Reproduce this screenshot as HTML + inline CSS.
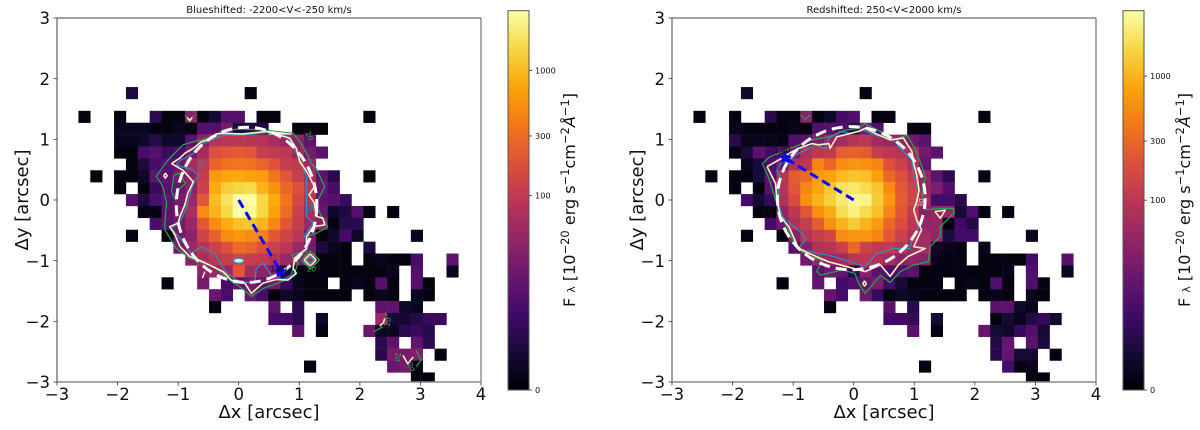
<!DOCTYPE html>
<html lang="en">
<head>
<meta charset="utf-8">
<title>Blueshifted and redshifted flux maps</title>
<style>
html,body{margin:0;padding:0;background:#fff;}
svg{display:block;font-family:"DejaVu Sans","Liberation Sans",sans-serif;filter:blur(0.35px);}
</style>
</head>
<body>
<svg id="figure" width="1200" height="430" viewBox="0 0 1200 430" xmlns="http://www.w3.org/2000/svg"></svg>
<script>
const _ = null;
/* Heatmap rows, top (j=9) to bottom (j=-15): first entry is the first column index, then flux per cell */
const fluxBlue = [
[-9,5,_,_,_,_,_,_,_,_,_,1],
[0],
[-13,1,_,_,1,_,_,7,1,1,40,1,4,15,15,_,1,1,_,_,_,_,_,_,_,1],
[-10,2,2,2,1,1,2,1,15,15,27,5,5,5,_,_,1,1,1],
[-10,2,2,3,6,3,3,15,40,80,90,90,85,80,62,50,40,18],
[-10,1,1,12,15,9,12,27,62,180,200,220,200,110,100,90,50,27,18],
[-9,1,5,12,15,22,62,90,260,330,350,340,260,190,110,100,50],
[-12,1,_,1,1,3,18,18,27,40,110,600,750,800,700,650,350,200,110,62,18,7,_,_,1],
[-10,1,_,1,9,15,22,40,120,800,1300,1500,1600,900,550,280,180,90,22,12],
[-9,15,5,12,18,27,50,200,1000,1800,3000,3000,1500,800,350,150,80,18,15,9],
[-8,1,1,18,33,62,500,900,1500,3000,2800,1500,700,300,120,62,22,3,5,15,1,_,1],
[-7,13,18,27,50,200,500,800,1100,1200,900,450,200,110,50,40,1,6,7],
[-9,1,_,_,1,27,40,130,250,500,600,500,420,200,130,90,27,1,3,11,3,_,_,_,_,2],
[-5,27,50,80,120,180,300,260,180,120,90,50,27,5,2,1,_,5],
[-4,40,62,90,110,140,110,100,80,50,33,62,1,1,1,_,1,2,1,1,12,_,_,18],
[-3,40,50,50,200,62,40,33,5,1,1,1,1,1,1,1,1,2,_,15,_,_,2],
[-6,1,_,_,27,_,12,18,27,18,27,9,2,1,1,_,1,2,1,15,1,_,15,1],
[-2,22,12,_,22,12,1,3,2,1,1,1,1,_,1,2,1,_,2,1],
[-2,1,_,_,_,_,18,_,7,_,_,_,_,_,_,18,18,3,2],
[3,11,11,7,_,3,_,_,_,_,50,4,4,6,9,9],
[5,18,_,1,_,_,_,22,2,2,7,9,6],
[12,7,18,_,18,7],
[12,6,27,27,33,_,1],
[6,1,_,_,_,_,_,_,22,27,1],
[15,1,1]
];
const fluxRed = [
[-9,3,_,_,_,_,_,_,_,_,_,1],
[0],
[-13,1,_,_,1,_,_,7,1,1,40,1,3,12,15,_,1,1,_,_,_,_,_,_,_,1],
[-10,2,1,1,1,1,2,1,15,18,15,7,27,15,_,_,1,1],
[-10,7,2,2,2,1,15,18,33,50,62,90,100,62,55,50,27,18],
[-10,1,5,18,12,15,27,80,100,110,250,270,250,120,100,90,62,27,18],
[-9,2,5,15,27,80,100,500,300,550,650,600,500,200,130,80,22],
[-12,1,_,1,1,5,18,90,250,300,700,800,1100,1300,1200,750,300,200,110,50,18,8,_,_,1],
[-10,1,_,1,18,90,220,500,800,1300,2000,2200,1800,1300,550,230,140,50,33,15],
[-9,12,4,9,80,180,600,1000,1500,2300,3000,2800,1400,700,250,150,62,12,12,7],
[-8,1,1,50,100,220,600,900,1800,2600,1800,1200,500,220,110,40,50,50,4,15,1,_,1],
[-7,12,27,80,120,250,600,1000,1400,1000,700,300,180,100,50,50,1,11,6],
[-9,1,_,_,1,40,90,120,150,550,650,650,500,220,130,80,62,50,5,12,12,_,_,_,_,2],
[-5,18,40,80,90,130,300,140,110,110,90,62,62,3,2,1,_,2],
[-4,27,50,55,62,90,100,80,62,45,50,40,2,1,1,_,1,1,1,1,12,_,_,17],
[-3,18,27,22,7,40,18,15,15,18,1,1,1,1,1,1,1,2,_,15,_,_,2],
[-6,1,_,_,22,_,12,15,22,33,12,4,1,1,1,_,1,2,1,15,1,_,15,1],
[-2,22,12,_,27,9,1,3,2,1,1,1,1,_,1,2,1,_,2,1],
[-2,1,_,_,_,_,18,_,7,_,_,_,_,_,_,18,18,3,2],
[3,11,11,9,_,4,_,_,_,_,1,4,2,6,9,4],
[5,18,_,1,_,_,_,22,4,3,9,15,4],
[12,6,22,_,18,5],
[12,7,22,4,4,_,1],
[6,1,_,_,_,_,_,_,12,1,2],
[15,1,1]
];
const topRow = 9;
const cellArcsec = 0.196;

const xTicks = [-3,-2,-1,0,1,2,3,4];
const yTicks = [-3,-2,-1,0,1,2,3];
const cbarTicks = [0,100,300,1000];
const infernoStops = ['#000004','#160b39','#420a68','#6a176e','#932667','#bc3754','#dd513a','#f37819','#fca50a','#f6d746','#fcffa4'];

/* Contours in arcsec */
const blueCream = [[-1.11,.60],[-.97,.69],[-.89,.77],[-.75,.85],[-.62,.96],[-.48,1.00],[-.37,1.09],[-.26,1.10],[.07,1.09],[.46,1.13],[.84,1.02],[.95,.85],[1.01,.63],[1.12,.47],[1.17,.38],[1.25,.22],[1.16,.08],[1.25,-.05],[1.28,-.27],[1.39,-.30],[1.42,-.41],[1.23,-.44],[1.12,-.60],[1.12,-.80],[.92,-.96],[.90,-1.13],[.95,-1.21],[.81,-1.32],[.62,-1.31],[.40,-1.37],[.21,-1.54],[.10,-1.37],[-.12,-1.32],[-.26,-1.18],[-.59,-1.02],[-.81,-.93],[-.97,-.77],[-1.05,-.58],[-1.14,-.44],[-1.00,-.38],[-.97,-.27],[-.89,-.08],[-.84,.11],[-.75,.30],[-.92,.49],[-1.11,.60]];
const blueTeal = [[-1.03,.58],[-.75,.49],[-.67,.41],[-.75,.27],[-.81,.08],[-.86,-.11],[-.95,-.33],[-1.11,-.47],[-.95,-.66],[-.78,-.88],[-.62,-.77],[-.40,-.88],[-.20,-1.21],[.02,-1.35],[.26,-1.37],[.29,-1.13],[.40,-1.04],[.54,-1.24],[.73,-1.31],[.87,-1.24],[.92,-1.04],[1.12,-.80],[1.09,-.58],[1.23,-.38],[1.12,-.27],[1.12,.11],[1.12,.38],[1.03,.63],[.95,.77],[.81,1.04],[.46,1.11],[.07,1.07],[-.23,1.07],[-.34,1.04],[-.59,.93],[-.75,.77],[-.95,.66],[-1.03,.58]];
const blueGreen = [[-1.14,.69],[-1.03,.80],[-.92,.91],[-.75,.96],[-.64,.99],[-.42,1.04],[-.26,1.15],[.02,1.17],[.46,1.15],[.90,1.10],[1.01,.96],[1.12,.77],[1.20,.60],[1.28,.52],[1.42,.22],[1.31,0],[1.28,-.11],[1.47,-.44],[1.28,-.55],[1.12,-.60],[1.14,-.74],[1.12,-.85],[.87,-.91],[.98,-1.04],[.90,-1.26],[.65,-1.37],[.40,-1.46],[.21,-1.59],[.02,-1.43],[-.15,-1.32],[-.40,-1.10],[-.59,-1.04],[-.81,-.96],[-1.03,-.80],[-1.22,-.49],[-1.22,-.38],[-1.19,-.05],[-1.25,.22],[-1.36,.39],[-1.19,.63],[-1.03,.80]];
const blueGreenBits = [
[[-1.07,.41],[-.97,.44],[-.88,.27],[-1.03,.14],[-1.04,0],[-1.11,.14],[-1.07,.41]],
[[-.89,1.40],[-.81,1.29],[-.73,1.40]],
[[2.41,-1.86],[2.44,-1.90]],
[[2.23,-2.17],[2.38,-2.09]],
[[2.93,-2.48],[3.01,-2.64],[2.93,-2.75]],
[[1.04,-.99],[1.18,-.84],[1.33,-.99],[1.18,-1.14],[1.04,-.99]]
];
const blueCreamBits = [
[[-.56,-1.18],[-.60,-1.29]],
[[-1.24,.40],[-1.21,.44],[-1.18,.40],[-1.21,.36],[-1.24,.40]],
[[-.85,1.36],[-.81,1.31],[-.77,1.36]],
[[2.41,-1.95],[2.39,-2.02],[2.33,-2.08]],
[[2.71,-2.56],[2.79,-2.70],[2.88,-2.59]],
[[1.08,-.99],[1.18,-.89],[1.28,-.99],[1.18,-1.09],[1.08,-.99]]
];
const blueTealBits = [
[[1.12,-.99],[1.18,-.93],[1.24,-.99],[1.18,-1.05],[1.12,-.99]]
];
const redCream = [[-1.43,.55],[-1.18,.69],[-1.07,.77],[-.91,.85],[-.69,.93],[-.58,.91],[-.41,.93],[-.39,.85],[-.28,1.04],[.08,1.13],[.19,1.18],[.35,1.10],[.60,.99],[.82,1.02],[.96,.80],[.99,.60],[1.04,.41],[1.08,.16],[1.04,-.03],[.99,-.16],[1.04,-.33],[1.12,-.49],[.99,-.77],[1.18,-.80],[.90,-.93],[.74,-1.07],[.60,-1.26],[.44,-1.07],[.19,-1.18],[-.11,-1.10],[-.41,-1.02],[-.74,-.88],[-.91,-.80],[-1.07,-.44],[-1.21,-.27],[-1.27,0],[-1.29,.27],[-1.43,.55]];
const redTeal = [[-1.21,.60],[-1.27,.49],[-1.21,.38],[-1.24,.16],[-1.24,-.05],[-1.18,-.27],[-.99,-.44],[-.85,-.55],[-.80,-.66],[-.91,-.80],[-.61,-.88],[-.41,-.91],[-.14,-.99],[.19,-1.10],[.38,-.88],[.66,-.80],[.93,-.80],[.96,-.63],[1.07,-.47],[.99,-.14],[1.07,.11],[.99,.41],[.96,.66],[.79,.82],[.66,.99],[.35,1.07],[.16,1.15],[-.06,1.10],[-.22,1.13],[-.41,1.02],[-.47,.85],[-.63,.91],[-.91,.77],[-1.07,.66],[-1.21,.60]];
const redGreen = [[-1.51,.60],[-1.40,.70],[-1.18,.80],[-.69,.99],[-.41,1.04],[-.14,1.15],[.08,1.18],[.18,1.26],[.44,1.13],[.66,.99],[.88,1.07],[1.01,.85],[1.11,.60],[1.18,.38],[1.12,.11],[1.15,0],[1.21,-.16],[1.40,-.14],[1.65,-.14],[1.66,-.21],[1.43,-.44],[1.43,-.60],[1.26,-.77],[1.23,-1.02],[.99,-1.07],[.77,-1.18],[.60,-1.36],[.44,-1.24],[.19,-1.54],[.08,-1.37],[.02,-1.21],[-.19,-1.15],[-.55,-1.24],[-.61,-1.18],[-.52,-.99],[-.74,-.93],[-.94,-.80],[-1.10,-.46],[-1.29,0],[-1.40,.36],[-1.51,.60]];
const redGreenBits = [
[[-.88,1.40],[-.80,1.33],[-.72,1.40]]
];
const redCreamBits = [
[[1.34,-.19],[1.51,-.17],[1.43,-.30],[1.34,-.19]],
[[.18,-1.33],[.21,-1.38],[.18,-1.42],[.15,-1.38],[.18,-1.33]]
];
const redTealBits = [];

/* Dashed fit ellipses: centre x, centre y, semi-axis x, semi-axis y */
const blueEllipse = [0.13,-0.08,1.16,1.28];
const redEllipse = [-0.04,0.03,1.22,1.18];
/* Velocity vectors end (star) */
const blueVector = [0.69,-1.18];
const redVector = [-1.13,0.69];
/* Contour labels: x, y, text, colour key, rotation */
const blueLabels = [
[-.62,.59,'3σ','teal',90],
[1.2,-.13,'3σ','teal',-90],
[1.17,1.06,'2σ','green',60],
[1.2,-1.14,'2σ','green',0],
[2.46,-2.01,'2σ','green',-80],
[2.62,-2.59,'2σ','green',90],
[2.85,-2.75,'2σ','green',60],
[.66,-1.14,'1.40','black',0]
];
const redLabels = [
[1.11,-.05,'3σ','faint',-90],
[-1.18,.82,'1.40','black',0]
];
const blueSpots = [[0,-1.0]];
const redSpots = [];

const colours = {cream:'#fff2c0',green:'#25a84f',teal:'#2a92bc',black:'#111',faint:'#d9b9c9'};
const panelWidth = 424, panelHeight = 364, axisLeft = 57, axisTop = 18;
const xMin = -3, xMax = 4, yMin = -3, yMax = 3;

const svg = document.getElementById('figure');
const NS = 'http://www.w3.org/2000/svg';

function make(tag, attrs, parent){
  const e = document.createElementNS(NS, tag);
  for (const k in attrs) e.setAttribute(k, attrs[k]);
  parent.appendChild(e);
  return e;
}
function hexMix(a,b,f){
  const pa=[1,3,5].map(i=>parseInt(a.substr(i,2),16));
  const pb=[1,3,5].map(i=>parseInt(b.substr(i,2),16));
  return 'rgb('+pa.map((v,i)=>Math.round(v+(pb[i]-v)*f)).join(',')+')';
}
function inferno(t){
  const c=Math.max(0,Math.min(1,t))*(infernoStops.length-1);
  const i=Math.min(Math.floor(c),infernoStops.length-2);
  return hexMix(infernoStops[i],infernoStops[i+1],c-i);
}
function pointsOf(path, sx, sy){
  return path.map(p=>sx(p[0]).toFixed(1)+','+sy(p[1]).toFixed(1)).join(' ');
}

function drawPanel(cfg){
  const off = cfg.offset;
  const sx = v => off + axisLeft + (v - xMin) / (xMax - xMin) * panelWidth;
  const sy = v => axisTop + (yMax - v) / (yMax - yMin) * panelHeight;
  const norm = v => cfg.normA * Math.asinh(v / cfg.normB);
  const group = make('g', {}, svg);
  
  

  const defs = make('defs', {}, svg);
  const clip = make('clipPath', {id: 'clip-' + cfg.key}, defs);
  make('rect', {x: sx(xMin), y: sy(yMax), width: panelWidth, height: panelHeight}, clip);
  const cellsGroup = make('g', {'clip-path': 'url(#clip-' + cfg.key + ')'}, group);
  
  

  /* heatmap */
  const cellPx = cellArcsec * panelWidth / (xMax - xMin);
  cfg.rows.forEach((row, r) => {
    const j = topRow - r;
    const first = row[0];
    row.slice(1).forEach((val, c) => {
      if (val === null) return;
      const i = first + c;
      const cell = make('rect', {
        x: (sx(i * cellArcsec) - cellPx / 2).toFixed(2),
        y: (sy(j * cellArcsec) - cellPx / 2).toFixed(2),
        width: (cellPx + 0.25).toFixed(2),
        height: (cellPx + 0.25).toFixed(2),
        fill: inferno(norm(val))
      }, cellsGroup);
      
      
    });
  });

  /* contours */
  const drawLine = (path, colour, name, width) => {
    const line = make('polyline', {points: pointsOf(path, sx, sy), fill: 'none', stroke: colour, 'stroke-width': width, 'stroke-linejoin': 'round'}, group);
    
    
  };
  cfg.greenBits.forEach(p => drawLine(p, colours.green, 'contour-2-sigma-fragment', 1.2));
  cfg.tealBits.forEach(p => drawLine(p, colours.teal, 'contour-3-sigma-fragment', 1.3));
  cfg.creamBits.forEach(p => drawLine(p, colours.cream, 'contour-peak-fragment', 1.5));
  drawLine(cfg.green, colours.green, 'contour-2-sigma', 1.2);
  drawLine(cfg.teal, colours.teal, 'contour-3-sigma', 1.2);
  drawLine(cfg.cream, colours.cream, 'contour-peak', 1.6);

  cfg.spots.forEach(s => {
    const o = make('ellipse', {cx: sx(s[0]), cy: sy(s[1]), rx: 5, ry: 2.4, fill: '#fff', stroke: colours.teal, 'stroke-width': 1.2}, group);
    
    
  });

  /* dashed fit ellipse */
  const e = cfg.ellipse;
  const ell = make('ellipse', {
    cx: sx(e[0]), cy: sy(e[1]),
    rx: e[2] * panelWidth / (xMax - xMin),
    ry: e[3] * panelHeight / (yMax - yMin),
    fill: 'none', stroke: '#fff', 'stroke-width': 3, 'stroke-dasharray': '11 6'
  }, group);
  
  

  /* blue vector */
  const vec = make('line', {x1: sx(0), y1: sy(0), x2: sx(cfg.vector[0]), y2: sy(cfg.vector[1]), stroke: '#0000ff', 'stroke-width': 3, 'stroke-dasharray': '9 5'}, group);
  
  
  const starPts = [];
  for (let k = 0; k < 10; k++) {
    const rad = k % 2 ? 3 : 7;
    const ang = -Math.PI / 2 + k * Math.PI / 5;
    starPts.push((sx(cfg.vector[0]) + rad * Math.cos(ang)).toFixed(1) + ',' + (sy(cfg.vector[1]) + rad * Math.sin(ang)).toFixed(1));
  }
  const star = make('polygon', {points: starPts.join(' '), fill: '#0000ff'}, group);
  
  

  /* contour labels */
  cfg.labels.forEach(l => {
    const px = sx(l[0]), py = sy(l[1]);
    const t = make('text', {x: px, y: py + 2.5, 'font-size': 7.5, 'text-anchor': 'middle', fill: colours[l[3]], transform: 'rotate(' + l[4] + ' ' + px + ' ' + py + ')'}, group);
    t.textContent = l[2];
    
    
  });

  /* spines */
  const spines = [
    [sx(xMin), sy(yMin), sx(xMin), sy(yMax), '#888', 1.6, 'left-spine'],
    [sx(xMax), sy(yMin), sx(xMax), sy(yMax), '#888', 1.4, 'right-spine'],
    [sx(xMin), sy(yMin), sx(xMax), sy(yMin), '#888', 1.4, 'bottom-spine'],
    [sx(xMin), sy(yMax), sx(xMax), sy(yMax), '#444', 1, 'top-spine']
  ];
  spines.forEach(s => {
    const ln = make('line', {x1: s[0], y1: s[1], x2: s[2], y2: s[3], stroke: s[4], 'stroke-width': s[5]}, group);
    
    
  });

  /* ticks */
  xTicks.forEach(v => {
    const tk = make('line', {x1: sx(v), y1: sy(yMin), x2: sx(v), y2: sy(yMin) + 3.5, stroke: '#333', 'stroke-width': 0.8}, group);
    
    
    const lb = make('text', {x: sx(v), y: 400, 'font-size': 16.5, 'text-anchor': 'middle', fill: '#111'}, group);
    lb.textContent = String(v).replace('-', '\u2212');
    
    
  });
  yTicks.forEach(v => {
    const tk = make('line', {x1: sx(xMin) - 3.5, y1: sy(v), x2: sx(xMin), y2: sy(v), stroke: '#333', 'stroke-width': 0.8}, group);
    
    
    const lb = make('text', {x: sx(xMin) - 7, y: sy(v) + 6.2, 'font-size': 16.5, 'text-anchor': 'end', fill: '#111'}, group);
    lb.textContent = String(v).replace('-', '\u2212');
    
    
  });

  /* titles */
  const title = make('text', {x: off + 269, y: 13, 'font-size': 10, 'text-anchor': 'middle', fill: '#111'}, group);
  title.textContent = cfg.title;
  
  
  const xt = make('text', {x: off + 269, y: 418, 'font-size': 18, 'text-anchor': 'middle', fill: '#111'}, group);
  xt.textContent = 'Δx [arcsec]';
  
  
  const yt = make('text', {x: 0, y: 0, 'font-size': 18, 'text-anchor': 'middle', fill: '#111', transform: 'translate(' + (off + 28) + ' 200) rotate(-90)'}, group);
  yt.textContent = 'Δy [arcsec]';
  
  

  /* colourbar */
  const barX = off + 508, barW = 21, barTop = 10.7, barBottom = 390;
  const cy = t => barBottom - t * (barBottom - barTop);
  const gradId = 'grad-' + cfg.key;
  const grad = make('linearGradient', {id: gradId, x1: 0, y1: 1, x2: 0, y2: 0}, defs);
  infernoStops.forEach((c, k) => {
    make('stop', {offset: k / (infernoStops.length - 1), 'stop-color': c}, grad);
  });
  const bar = make('rect', {x: barX, y: barTop, width: barW, height: barBottom - barTop, fill: 'url(#' + gradId + ')', stroke: '#555', 'stroke-width': 1}, group);
  
  
  cbarTicks.forEach(v => {
    const tk = make('line', {x1: barX + barW, y1: cy(norm(v)), x2: barX + barW + 3, y2: cy(norm(v)), stroke: '#333', 'stroke-width': 0.8}, group);
    
    
    const lb = make('text', {x: barX + barW + 6, y: cy(norm(v)) + 3, 'font-size': 8.2, fill: '#111'}, group);
    lb.textContent = String(v);
    
    
  });
  const cl = make('text', {x: 0, y: 0, 'font-size': 16, 'text-anchor': 'middle', fill: '#111', transform: 'translate(' + (off + 575) + ' 200) rotate(-90)'}, group);
  
  
  const parts = [
    ['F ', 16, 0], ['λ', 11, 0], [' [10', 16, 0], ['−20', 11.5, -6], [' erg s', 16, 6], ['−1', 11.5, -6],
    ['cm', 16, 6], ['−2', 11.5, -6], ['Å', 16, 6], ['−1', 11.5, -6], [']', 16, 6]
  ];
  parts.forEach(p => {
    const ts = make('tspan', {'font-size': p[1], dy: p[2]}, cl);
    if (p[0] === 'Å') ts.setAttribute('font-style', 'italic');
    ts.textContent = p[0];
  });
}

drawPanel({key:'blueshifted', offset:0, rows:fluxBlue, normA:0.1433, normB:5.6, cream:blueCream, teal:blueTeal, green:blueGreen, creamBits:blueCreamBits, tealBits:blueTealBits, greenBits:blueGreenBits, ellipse:blueEllipse, vector:blueVector, labels:blueLabels, spots:blueSpots, title:'Blueshifted: -2200<V<-250 km/s'});
drawPanel({key:'redshifted', offset:615, rows:fluxRed, normA:0.142, normB:5.9, cream:redCream, teal:redTeal, green:redGreen, creamBits:redCreamBits, tealBits:redTealBits, greenBits:redGreenBits, ellipse:redEllipse, vector:redVector, labels:redLabels, spots:redSpots, title:'Redshifted: 250<V<2000 km/s'});
</script>
</body>
</html>
